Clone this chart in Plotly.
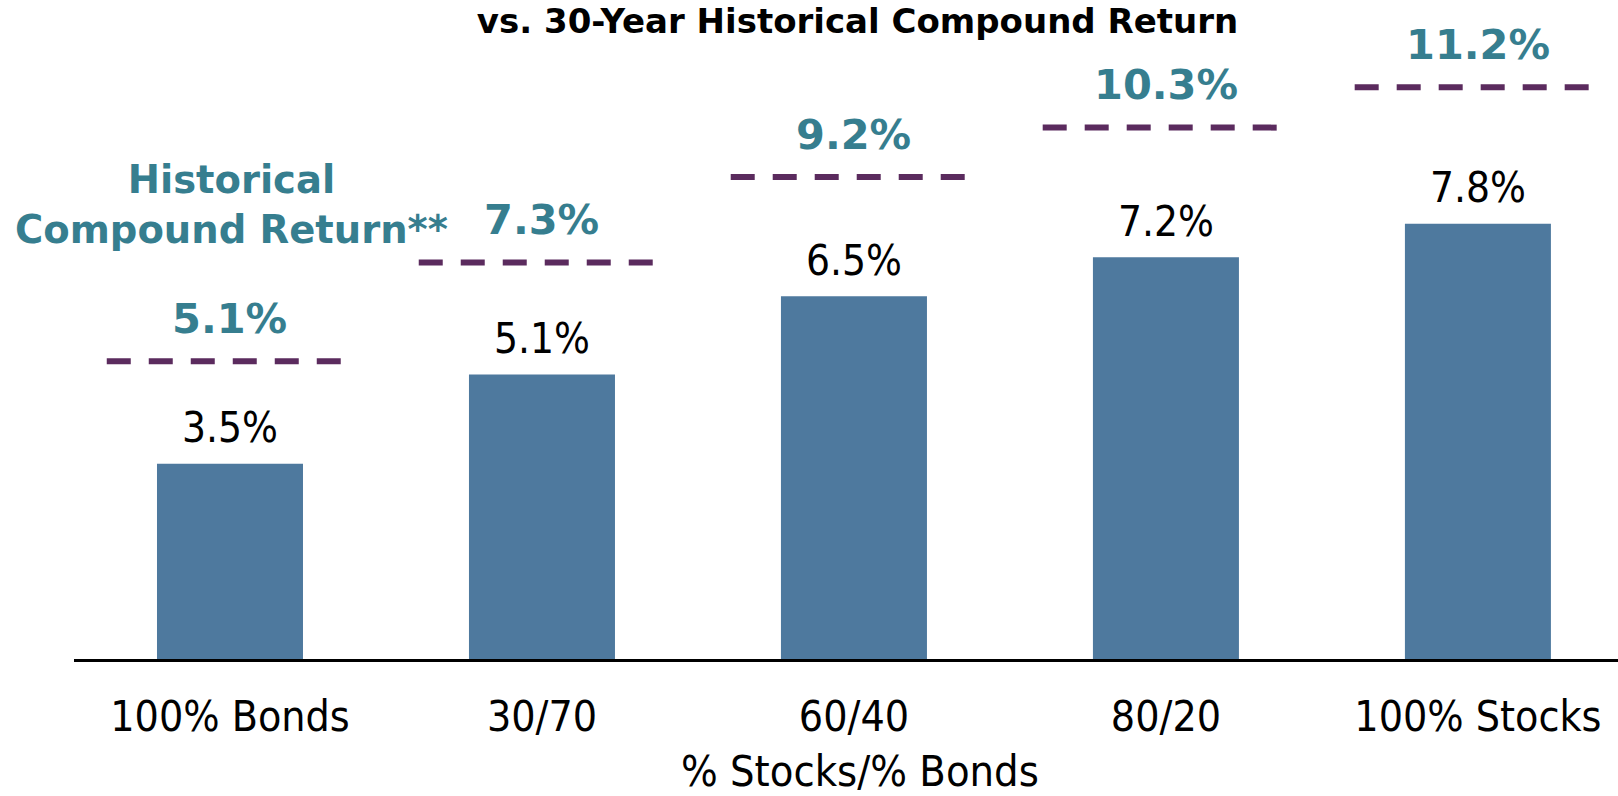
import plotly.graph_objects as go

# ---- data ----
categories = ["100% Bonds", "30/70", "60/40", "80/20", "100% Stocks"]
expected_returns = [3.5, 5.1, 6.5, 7.2, 7.8]
historical_returns = [5.1, 7.3, 9.2, 10.3, 11.2]

title_text = "vs. 30-Year Historical Compound Return"
hist_label_text = "Historical<br>Compound Return**"
x_title_text = "% Stocks/% Bonds"

# ---- styles ----
BAR_COLOR = "#4E799E"
TEAL = "#367E8F"
PURPLE = "#5B2B5E"
FONT = "DejaVu Sans"
FONT_C = "DejaVu Sans Condensed"

x_idx = list(range(len(categories)))

fig = go.Figure()

fig.add_trace(go.Bar(
    x=x_idx, y=expected_returns,
    marker=dict(color=BAR_COLOR, line=dict(width=0)),
    width=0.468, hoverinfo="skip", showlegend=False,
))

for i, hv in zip(x_idx, historical_returns):
    fig.add_trace(go.Scatter(
        x=[i - 0.395, i + 0.355], y=[hv, hv], yaxis="y2",
        mode="lines", line=dict(color=PURPLE, width=6, dash="24px,18px"),
        hoverinfo="skip", showlegend=False,
    ))

annotations = []
for i, v in zip(x_idx, expected_returns):
    annotations.append(dict(
        x=i, y=v, xref="x", yref="y", text=f"{v:.1f}%", showarrow=False,
        yanchor="middle", yshift=36,
        font=dict(family=FONT_C, size=42, color="black"),
    ))
for i, hv in zip(x_idx, historical_returns):
    annotations.append(dict(
        x=i, y=hv, xref="x", yref="y2", text=f"{hv:.1f}%", showarrow=False,
        yanchor="middle", yshift=43,
        font=dict(family=FONT, size=41.5, color=TEAL, weight="bold"),
    ))
annotations.append(dict(
    x=0.1023, y=0.6904, xref="paper", yref="paper", text=hist_label_text,
    showarrow=False, xanchor="center", yanchor="middle", align="center",
    font=dict(family=FONT, size=38.5, color=TEAL, weight="bold"),
))
annotations.append(dict(
    x=2, y=-0.1745, xref="x", yref="paper", text=x_title_text, xshift=6,
    yshift=3, borderpad=0, showarrow=False, xanchor="center", yanchor="middle",
    font=dict(family=FONT_C, size=43, color="black"),
))

fig.update_layout(
    width=1618, height=796,
    margin=dict(l=74, r=0, t=0, b=137),
    plot_bgcolor="white", paper_bgcolor="white",
    bargap=0.532,
    title=dict(
        text=title_text, xref="container", yref="container",
        x=0.530, y=1 - 21 / 796, xanchor="center", yanchor="middle",
        font=dict(family=FONT, size=34, color="black", weight="bold"),
    ),
    xaxis=dict(
        range=[-0.5, 4.449], tickvals=x_idx, ticktext=categories,
        showline=True, linecolor="black", linewidth=3,
        showgrid=False, zeroline=False,
        ticks="outside", ticklen=18, tickcolor="rgba(0,0,0,0)",
        tickfont=dict(family=FONT_C, size=42.5, color="black"),
    ),
    yaxis=dict(range=[0, 11.81], visible=False, showgrid=False, zeroline=False),
    yaxis2=dict(range=[-1.529, 13.141], overlaying="y", visible=False,
                showgrid=False, zeroline=False),
    annotations=annotations,
)

fig.write_html("out.html", config={"displayModeBar": False},
               post_script="document.body.style.margin='0';")
